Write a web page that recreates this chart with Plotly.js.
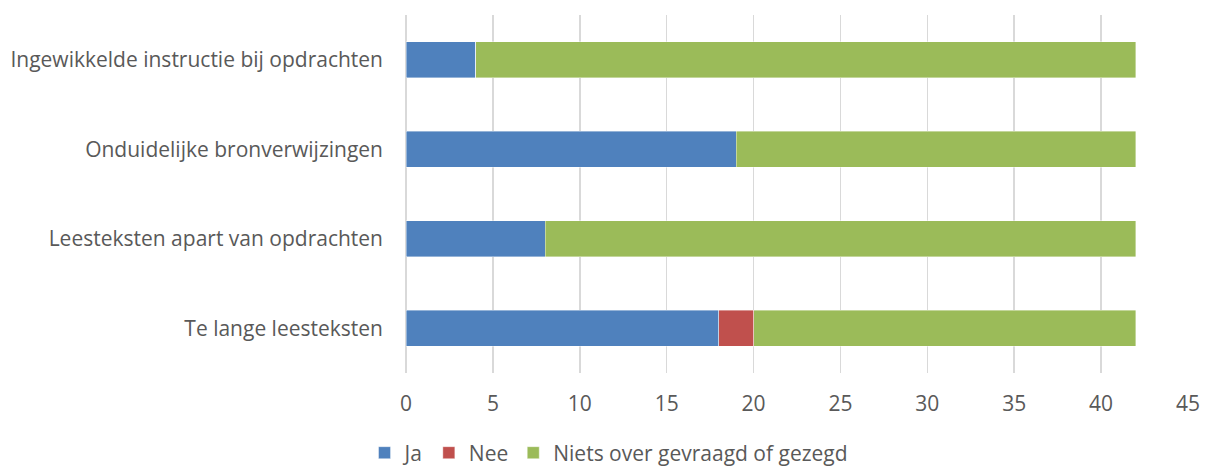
<!DOCTYPE html>
<html>
<head>
<meta charset="utf-8">
<script src="https://cdn.plot.ly/plotly-3.0.1.min.js"></script>
<style>html,body{margin:0;padding:0;background:#fff;}#chart{width:1206px;height:468px;}</style>
</head>
<body>
<div id="chart"></div>
<script>
const categories = ["Te lange leesteksten", "Leesteksten apart van opdrachten", "Onduidelijke bronverwijzingen", "Ingewikkelde instructie bij opdrachten"];
const ja = [18, 8, 19, 4];
const nee = [2, 0, 0, 0];
const niets = [22, 34, 23, 38];
const seriesNames = ["Ja", "Nee", "Niets over gevraagd of gezegd"];
const seriesColors = ["#4f81bd", "#c0504d", "#9bbb59"];
const xTicks = [0, 5, 10, 15, 20, 25, 30, 35, 40, 45];

const font = "'Open Sans', 'Noto Sans', sans-serif";
const fs = 21;
const textColor = "#595959";
const data = [ja, nee, niets].map((vals, i) => ({
  type: "bar",
  orientation: "h",
  y: categories,
  x: vals,
  name: seriesNames[i],
  marker: {color: seriesColors[i], line: {color: "rgba(255,255,255,0.5)", width: 0.8}},
  hoverinfo: "x+name"
}));

const layout = {
  barmode: "stack",
  bargap: 0.6,
  width: 1206,
  height: 468,
  margin: {l: 406, r: 18, t: 15, b: 95, autoexpand: false},
  paper_bgcolor: "#ffffff",
  plot_bgcolor: "#ffffff",
  font: {family: font, size: fs, color: textColor},
  xaxis: {
    range: [0, 45],
    tickvals: xTicks,
    ticktext: xTicks.map(String),
    showgrid: true,
    gridcolor: "#d9d9d9",
    gridwidth: 1.5,
    zeroline: true,
    zerolinecolor: "#d9d9d9",
    zerolinewidth: 1.5,
    showline: false,
    ticks: "",
    ticklabelstandoff: 16,
    tickfont: {family: font, size: fs, color: textColor},
    fixedrange: true
  },
  yaxis: {
    categoryorder: "array",
    categoryarray: categories,
    showgrid: false,
    zeroline: false,
    showline: false,
    ticks: "",
    ticklabelstandoff: 22,
    tickfont: {family: font, size: fs, color: textColor},
    fixedrange: true
  },
  legend: {
    orientation: "h",
    xref: "container",
    yref: "container",
    x: 0.505,
    xanchor: "center",
    y: 0.032,
    yanchor: "middle",
    traceorder: "normal",
    font: {family: font, size: fs, color: textColor},
    itemwidth: 30
  },
  showlegend: true
};

Plotly.newPlot("chart", data, layout, {displayModeBar: false, staticPlot: true});
</script>
</body>
</html>
